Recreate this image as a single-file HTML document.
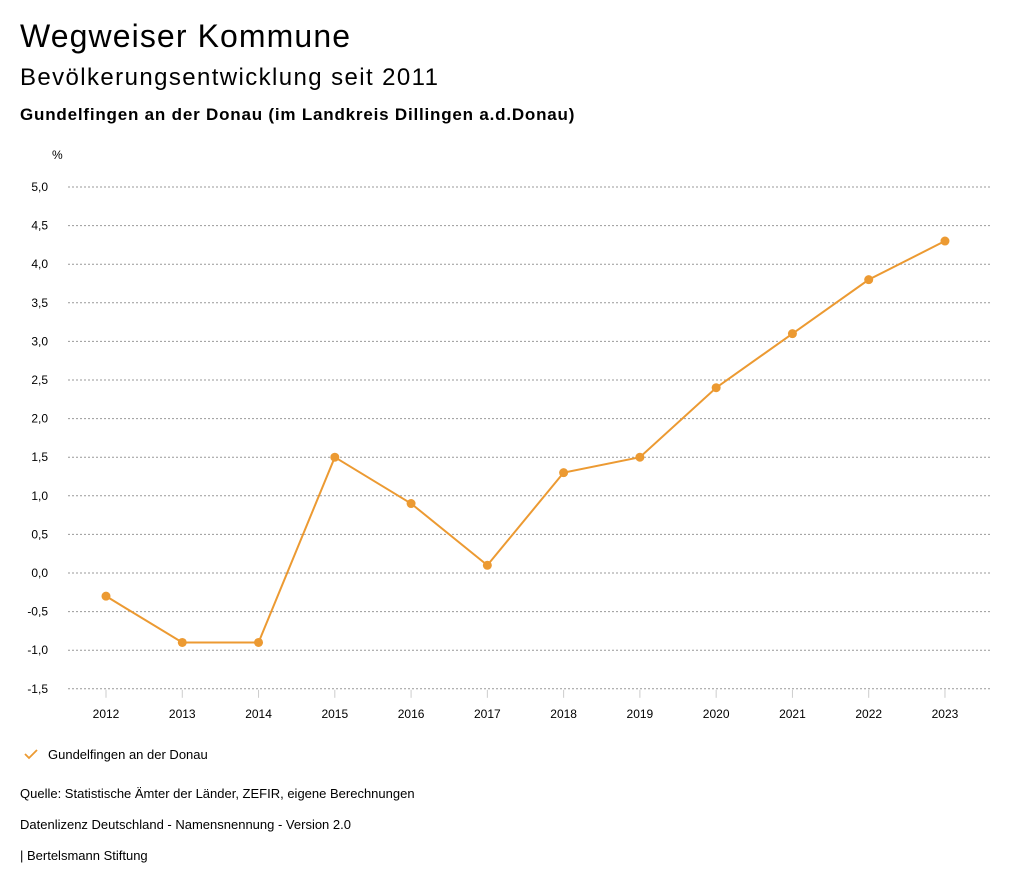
<!DOCTYPE html>
<html><head><meta charset="utf-8"><style>
body{margin:0;width:1024px;height:888px;background:#fff;font-family:"Liberation Sans",sans-serif;color:#000;position:relative;overflow:hidden}
.t{position:absolute;left:20px;white-space:nowrap}
</style></head><body>
<div class="t" style="top:18px;font-size:32px;letter-spacing:1.1px">Wegweiser Kommune</div>
<div class="t" style="top:64px;font-size:24px;letter-spacing:1.4px">Bevölkerungsentwicklung seit 2011</div>
<div class="t" style="top:105px;font-size:17px;font-weight:bold;letter-spacing:0.8px">Gundelfingen an der Donau (im Landkreis Dillingen a.d.Donau)</div>
<svg id="chart" width="1024" height="888" style="position:absolute;left:0;top:0" font-family="Liberation Sans, sans-serif">
<text x="52" y="159" font-size="12">%</text>
<g id="grid"></g><g id="xt"></g><path id="line" fill="none" stroke="#ec9a32" stroke-width="2"></path><g id="pts"></g>
<g>
<path d="M25 754 l4 4 l8 -8" fill="none" stroke="#ec9a32" stroke-width="1.8"/>
<text x="48" y="759" font-size="13">Gundelfingen an der Donau</text></g>
<text x="20" y="798" font-size="13">Quelle: Statistische Ämter der Länder, ZEFIR, eigene Berechnungen</text>
<text x="20" y="829" font-size="13">Datenlizenz Deutschland - Namensnennung - Version 2.0</text>
<text x="20" y="860" font-size="13">| Bertelsmann Stiftung</text>
</svg>
<script>
const years=[2012,2013,2014,2015,2016,2017,2018,2019,2020,2021,2022,2023];
const values=[-0.3,-0.9,-0.9,1.5,0.9,0.1,1.3,1.5,2.4,3.1,3.8,4.3];
const yTicks=[5,4.5,4,3.5,3,2.5,2,1.5,1,0.5,0,-0.5,-1,-1.5];
const NS="http://www.w3.org/2000/svg";
const y=v=>573-(v/0.5)*38.6;
const x=i=>106+i*76.27;
function mk(t,a,p){const e=document.createElementNS(NS,t);for(const k in a)e.setAttribute(k,a[k]);p.appendChild(e);return e;}
const g=document.getElementById('grid');
yTicks.forEach(v=>{
 const l=mk('line',{x1:68,x2:990,y1:y(v),y2:y(v),stroke:'#999','stroke-dasharray':'2,2','stroke-width':1},g);
 
 
 const t=mk('text',{x:48,y:y(v)+4,'font-size':12,'text-anchor':'end'},g);
 t.textContent=v.toFixed(1).replace('.',',');
 
 
});
const xt=document.getElementById('xt');
years.forEach((yr,i)=>{
 const l=mk('line',{x1:x(i),x2:x(i),y1:y(-1.5)+1,y2:y(-1.5)+9,stroke:'#ccc'},xt);
 
 
 const t=mk('text',{x:x(i),y:718,'font-size':12,'text-anchor':'middle'},xt);
 t.textContent=yr;
 
 
});
const line=document.getElementById('line');
line.setAttribute('d',values.map((v,i)=>(i?'L':'M')+x(i)+' '+y(v)).join(' '));


const pts=document.getElementById('pts');
values.forEach((v,i)=>{
 const c=mk('circle',{cx:x(i),cy:y(v),r:4.5,fill:'#ec9a32'},pts);
 
 
});
</script>
</body></html>
